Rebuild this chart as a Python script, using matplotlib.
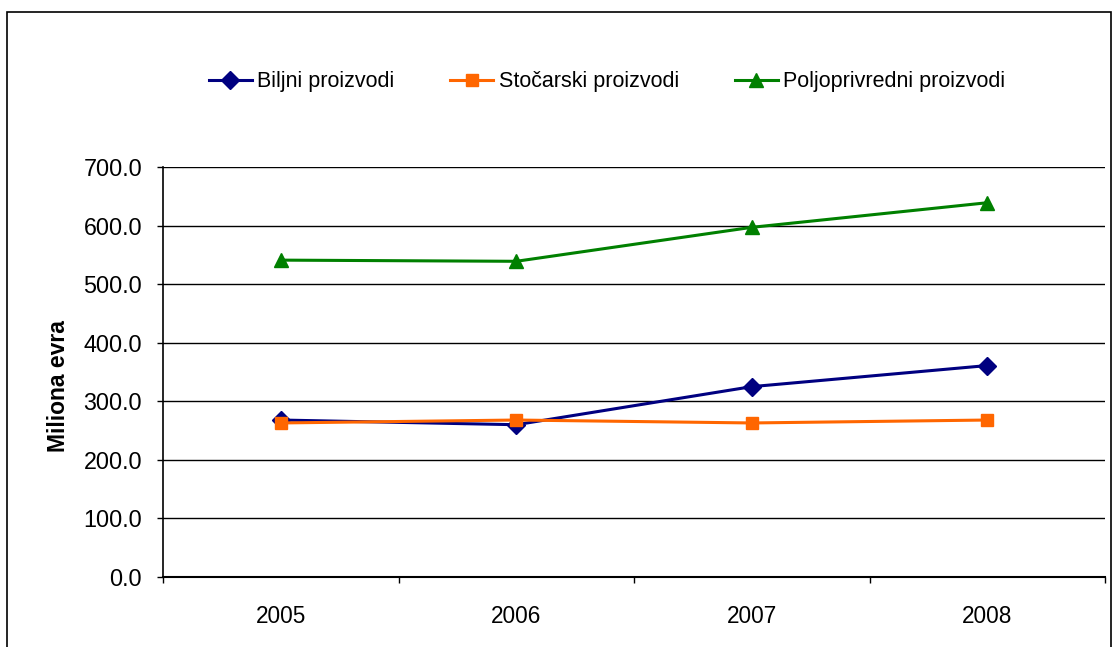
import matplotlib
matplotlib.use("Agg")
from matplotlib import pyplot as plt
from matplotlib.patches import Rectangle
import numpy as np

years = ["2005", "2006", "2007", "2008"]
biljni = [268.0, 260.0, 325.0, 361.0]
stocarski = [263.0, 268.0, 263.0, 268.0]
poljoprivredni = [541.0, 539.0, 597.0, 639.0]

plt.rcParams['font.family'] = ['Liberation Sans', 'DejaVu Sans']

fig = plt.figure(figsize=(11.13, 6.47), dpi=100)
ax = fig.add_axes([163/1113, 1-577/647, (1105-163)/1113, (577-167)/647])

x = np.arange(len(years))
ax.plot(x, biljni, color="#000080", lw=2.2, marker="D", ms=9.5, label="Biljni proizvodi")
ax.plot(x, stocarski, color="#FF6600", lw=2.2, marker="s", ms=9, label="Stočarski proizvodi")
ax.plot(x, poljoprivredni, color="#008000", lw=2.2, marker="^", ms=10, label="Poljoprivredni proizvodi")

ax.set_xlim(-0.5, len(years) - 0.5)
ax.set_ylim(0, 700)
ax.set_yticks(np.arange(0, 701, 100))
ax.set_yticklabels([f"{v:.1f}" for v in np.arange(0, 701, 100)], fontsize=16.8)
ax.set_xticks(x)
ax.set_xticklabels(years, fontsize=16.3)
ax.set_xticks(np.arange(-0.5, len(years), 1), minor=True)
ax.tick_params(axis="x", which="major", length=0, pad=20)
ax.tick_params(axis="x", which="minor", length=4.5, width=1, direction="out")
ax.tick_params(axis="y", length=4.5, width=1, direction="out", pad=10.5)
ax.yaxis.grid(True, color="black", lw=1)
ax.set_axisbelow(True)
for s in ["top", "right"]:
    ax.spines[s].set_visible(False)
ax.spines["left"].set_linewidth(1.2)
ax.spines["bottom"].set_linewidth(1.5)

ax.set_ylabel("Miliona evra", fontsize=16.5, fontweight="bold")
ax.yaxis.set_label_coords((70 - 163) / 942, (577 - 386) / 410)

ax.legend(loc="center", bbox_to_anchor=(607/1113, 1 - 82/647), bbox_transform=fig.transFigure,
          ncol=3, frameon=False, fontsize=15.5, handlelength=2.0, handletextpad=0.25,
          columnspacing=2.6)

fig.patches.append(Rectangle((7/1113, -0.1), (1111-7)/1113, 1.1 - 12/647,
                             transform=fig.transFigure, fill=False, ec="black", lw=1.2))

fig.savefig("out.png", dpi=100)
